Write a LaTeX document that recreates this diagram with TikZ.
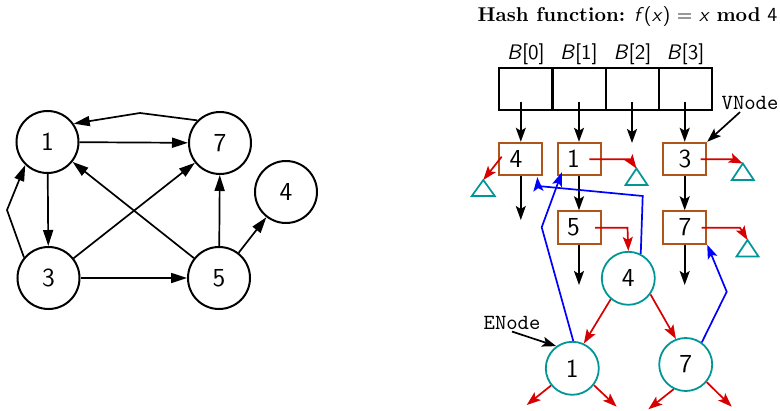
\documentclass[tikz,border=0pt]{standalone}
\usetikzlibrary{arrows.meta,calc}
\definecolor{vbrown}{RGB}{175,85,25}
\definecolor{eteal}{RGB}{0,150,150}
\definecolor{pred}{RGB}{215,0,0}
\definecolor{pblue}{RGB}{0,0,255}
\begin{document}
\begin{tikzpicture}[x=0.5pt,y=-0.5pt,
  gnode/.style={circle,draw,line width=1pt,minimum size=31pt,inner sep=0pt,font=\sffamily\fontsize{13}{15}\selectfont},
  garr/.style={line width=0.85pt,-{Triangle[length=8pt,width=5pt]}},
  cell/.style={rectangle,draw,line width=1pt,minimum width=26.65pt,minimum height=20.85pt,inner sep=0pt},
  lbl/.style={font=\sffamily\fontsize{10.5}{12}\selectfont,inner sep=1pt},
  vbox/.style={rectangle,draw=vbrown,line width=1pt,minimum width=21.5pt,minimum height=16.2pt,inner sep=0pt},
  enode/.style={circle,draw=eteal,line width=0.9pt,minimum size=26.5pt,inner sep=0pt,font=\sffamily\fontsize{13}{15}\selectfont},
  digit/.style={font=\sffamily\fontsize{13}{15}\selectfont,inner sep=0pt},
  barr/.style={line width=0.85pt,-{Stealth[length=7pt,width=5pt,inset=1.5pt]}},
  rarr/.style={color=pred,line width=0.85pt,-{Stealth[length=7pt,width=5pt,inset=1.5pt]}},
  blarr/.style={color=pblue,line width=0.85pt,-{Stealth[length=7pt,width=5pt,inset=1.5pt]}},
  tri/.style={draw=eteal,line width=0.85pt},
  ttl/.style={font=\ttfamily\fontsize{10.8}{13}\selectfont,inner sep=1pt}
]
\useasboundingbox (0,0) rectangle (780,411);

% ---------- left graph ----------
\node[gnode] (n1) at (47.5,142) {1};
\node[gnode] (n7) at (220,143) {7};
\node[gnode] (n4) at (286,192) {4};
\node[gnode] (n3) at (48.5,278) {3};
\node[gnode] (n5) at (219,278) {5};
\coordinate (k71) at (140,113);
\coordinate (k31) at (7,210);
\draw[garr] (n7.135) -- (k71) -- (n1.35);
\draw[garr] (n1) -- (n7);
\draw[garr] (n1) -- (n3);
\draw[garr] (n3.140) -- (k31) -- (n1.226);
\draw[garr] (n3) -- (n7);
\draw[garr] (n3) -- (n5);
\draw[garr] (n5) -- (n1);
\draw[garr] (n5) -- (n7);
\draw[garr] (n5) -- (n4);

% ---------- title ----------
\node[font=\fontsize{10}{12}\selectfont] (title) at (627.5,17)
  {\textbf{Hash function:} \textsf{\textit{f}(\textit{x}) = \textit{x}} \textbf{mod} \textsf{4}};

% ---------- bucket array ----------
\foreach \i/\x in {0/526,1/579,2/632.5,3/685.5}
  \node[cell,label={[lbl,label distance=0pt]above:\textit{B}[\i]}] (c\i) at (\x,89) {};

% ---------- VNode boxes ----------
\node[vbox] (v4) at (520.8,159) {};
\node[vbox] (v1) at (579,159) {};
\node[vbox] (v3) at (684.7,159) {};
\node[vbox] (v5) at (579,227.5) {};
\node[vbox] (v7) at (684.7,227.5) {};
\node[digit] (l4) at (516,159) {4};
\node[digit] (l1) at (573.6,159) {1};
\node[digit] (l3) at (685,159) {3};
\node[digit] (l5) at (573.6,227.5) {5};
\node[digit] (l7) at (685,227.5) {7};

% arrows from buckets
\coordinate (s0) at (520.8,101.7);
\coordinate (s1) at (579,101.7);
\coordinate (s2) at (632,101.7);
\coordinate (s3) at (684.7,101.7);
\coordinate (e2) at (632,143);
\draw[barr] (s0) -- (s0 |- v4.north);
\draw[barr] (s1) -- (s1 |- v1.north);
\draw[barr] (s2) -- (e2);
\draw[barr] (s3) -- (s3 |- v3.north);

% vertical chain arrows
\coordinate (d4) at (520.8,220);
\coordinate (d5) at (579,285);
\coordinate (d7) at (684.7,285);
\draw[barr] (v4) -- (d4);
\draw[barr] (v1) -- (v5);
\draw[barr] (v3) -- (v7);
\draw[barr] (v5) -- (d5);
\draw[barr] (v7) -- (d7);

% ---------- triangles (null) ----------
\coordinate (t4) at (483.3,180);
\coordinate (t1) at (636.5,168.5);
\coordinate (t3) at (742.8,163.5);
\coordinate (t7) at (747.5,240);
\draw[tri] (t4) -- ++(-11.5,16) -- ++(23,0) -- cycle;
\draw[tri] (t1) -- ++(-11,16.5) -- ++(22,0) -- cycle;
\draw[tri] (t3) -- ++(-11,16.5) -- ++(22,0) -- cycle;
\draw[tri] (t7) -- ++(-11,16.5) -- ++(22,0) -- cycle;

% ---------- ENode circles ----------
\node[enode] (c4) at (628.3,278.3) {4};
\node[enode] (e1) at (572.3,368.3) {1};
\node[enode] (e7) at (685.7,364.5) {7};

% red pointers
\coordinate (r4a) at (501.7,156.7);
\draw[rarr] (r4a) -- (t4);
\coordinate (r1a) at (589.3,159.3);
\coordinate (r1b) at (630,159.3);
\draw[rarr] (r1a) -- (r1b) -- (t1);
\coordinate (r3a) at (700.7,159.3);
\coordinate (r3b) at (733.3,159.3);
\draw[rarr] (r3a) -- (r3b) -- (t3);
\coordinate (r7a) at (701.7,227.7);
\coordinate (r7b) at (740,227.7);
\draw[rarr] (r7a) -- (r7b) -- (t7);
\coordinate (r5a) at (595,227.7);
\coordinate (r5b) at (627.5,227.7);
\draw[rarr] (r5a) -- (r5b) -- (c4.north);
\draw[rarr] (c4.230) -- (e1.65);
\draw[rarr] (c4.324) -- (e7.111);
\coordinate (o1l) at (526.7,405);
\coordinate (o1r) at (616.7,406.7);
\coordinate (o7l) at (648.3,409.3);
\coordinate (o7r) at (731.7,406.7);
\draw[rarr] (e1.219) -- (o1l);
\draw[rarr] (e1.322) -- (o1r);
\draw[rarr] (e7.244) -- (o7l);
\draw[rarr] (e7.320) -- (o7r);

% blue pointers
\coordinate (b1) at (541.7,227.3);
\draw[blarr] (e1.88) -- (b1) -- ($(v1.south west)+(5.4,-4)$);
\coordinate (b2) at (642.7,196);
\coordinate (b3) at (538,186);
\draw[blarr] (c4.63) -- (b2) -- (b3) -- ($(v4.south east)+(-6,1)$);
\coordinate (b4) at (726.7,291.7);
\draw[blarr] (e7.54) -- (b4) -- (v7.south east);

% ---------- annotations ----------
\node[ttl] (vnl) at (750,103) {VNode};
\draw[barr] (vnl) -- (v3.north east);
\node[ttl] (enl) at (512,322.5) {ENode};
\draw[barr] (enl.south) -- (e1.126);
\end{tikzpicture}
\end{document}
